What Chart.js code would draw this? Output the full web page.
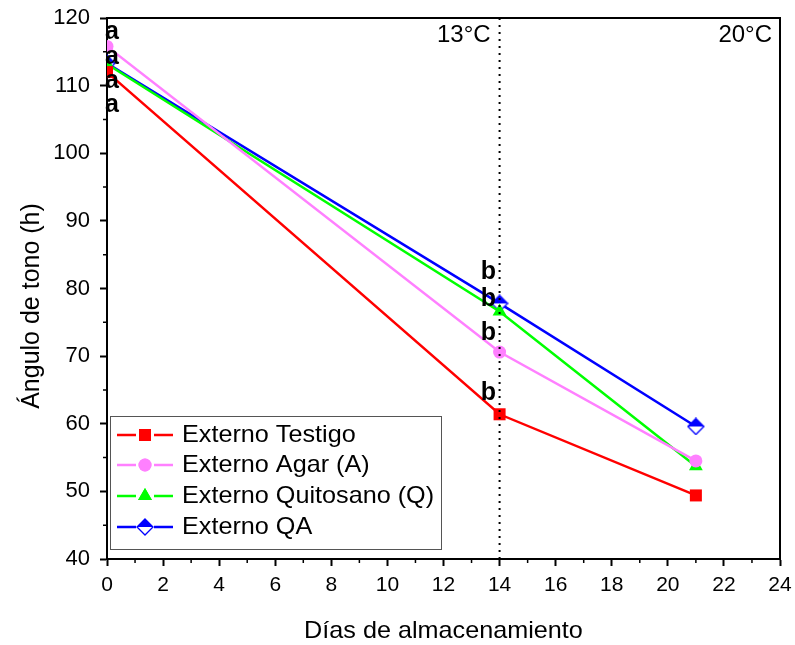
<!DOCTYPE html>
<html>
<head>
<meta charset="utf-8">
<script src="https://cdn.jsdelivr.net/npm/chart.js@4"></script>
<style>
  html, body { margin: 0; padding: 0; background: #fff; }
  #wrap { width: 795px; height: 645px; }
</style>
</head>
<body>
<div id="wrap"><canvas id="hueChart" width="795" height="645"></canvas></div>
<script>
// storage days
const days = [0, 14, 21];

// hue angle (h) per treatment
const testigo = [112.0, 61.4, 49.4];
const agar = [115.8, 70.6, 54.5];
const quitosano = [113.2, 76.6, 53.7];
const qa = [113.3, 77.8, 59.6];

const seriesNames = ["Externo Testigo", "Externo Agar (A)", "Externo Quitosano (Q)", "Externo QA"];

// significance letters (x, y in data units)
const letterText = ["a", "a", "a", "a", "b", "b", "b", "b"];
const letterX = [0.18, 0.18, 0.18, 0.18, 13.6, 13.6, 13.6, 13.6];
const letterY = [117.9, 114.2, 110.7, 107.1, 82.4, 78.4, 73.4, 64.5];

const xTicks = [0, 2, 4, 6, 8, 10, 12, 14, 16, 18, 20, 22, 24];
const yTicks = [40, 50, 60, 70, 80, 90, 100, 110, 120];

const FONT = "'Liberation Sans', Arial, sans-serif";
const STRETCH = 1.05; // legend / title text runs slightly wide in the original

function diamondImage() {
  const c = document.createElement("canvas");
  c.width = 18; c.height = 18;
  const g = c.getContext("2d");
  g.beginPath();
  g.moveTo(9, 1); g.lineTo(17, 9); g.lineTo(1, 9); g.closePath();
  g.fillStyle = "#0000ff"; g.fill();
  g.beginPath();
  g.moveTo(1, 9); g.lineTo(17, 9); g.lineTo(9, 17); g.closePath();
  g.fillStyle = "#ffffff"; g.fill();
  g.beginPath();
  g.moveTo(9, 1); g.lineTo(17, 9); g.lineTo(9, 17); g.lineTo(1, 9); g.closePath();
  g.strokeStyle = "#0000ff"; g.lineWidth = 1.3; g.stroke();
  return c;
}
const qaMarker = diamondImage();

function toPoints(values) {
  return days.map((d, i) => ({ x: d, y: values[i] }));
}

function wideText(ctx, text, x, y) {
  ctx.save();
  ctx.translate(x, y);
  ctx.scale(STRETCH, 1);
  ctx.fillText(text, 0, 0);
  ctx.restore();
}

const decorPlugin = {
  id: "decor",
  afterDraw(chart) {
    const ctx = chart.ctx;
    const a = chart.chartArea;
    const xs = chart.scales.x, ys = chart.scales.y;
    ctx.save();

    // frame (top + right)
    ctx.strokeStyle = "#000";
    ctx.lineWidth = 2;
    ctx.beginPath();
    ctx.moveTo(a.left, a.top); ctx.lineTo(a.right, a.top); ctx.lineTo(a.right, a.bottom);
    ctx.stroke();

    // minor ticks
    ctx.lineWidth = 1.5;
    ctx.beginPath();
    for (let v = 1; v < 24; v += 2) {
      const px = xs.getPixelForValue(v);
      ctx.moveTo(px, a.bottom); ctx.lineTo(px, a.bottom + 4);
    }
    for (let v = 45; v < 120; v += 10) {
      const py = ys.getPixelForValue(v);
      ctx.moveTo(a.left, py); ctx.lineTo(a.left - 4, py);
    }
    ctx.stroke();

    // dotted line at day 14
    const x14 = xs.getPixelForValue(14);
    ctx.setLineDash([2, 5]);
    ctx.lineWidth = 2;
    ctx.beginPath();
    ctx.moveTo(x14, a.top); ctx.lineTo(x14, a.bottom);
    ctx.stroke();
    ctx.setLineDash([]);

    // temperature labels
    ctx.fillStyle = "#000";
    ctx.font = "24px " + FONT;
    ctx.textAlign = "right";
    ctx.textBaseline = "alphabetic";
    ctx.fillText("13°C", x14 - 9, 42);
    ctx.fillText("20°C", a.right - 8, 42);

    // letters
    ctx.font = "bold 25px " + FONT;
    ctx.textAlign = "center";
    ctx.textBaseline = "middle";
    letterText.forEach((t, i) => {
      ctx.fillText(t, xs.getPixelForValue(letterX[i]), ys.getPixelForValue(letterY[i]));
    });

    // axis titles
    ctx.font = "24px " + FONT;
    ctx.textAlign = "center";
    ctx.textBaseline = "alphabetic";
    wideText(ctx, "Días de almacenamiento", (a.left + a.right) / 2, 638);
    ctx.save();
    ctx.translate(39, 306);
    ctx.rotate(-Math.PI / 2);
    ctx.font = "25px " + FONT;
    ctx.fillText("Ángulo de tono (h)", 0, 0);
    ctx.restore();

    // legend
    const lx = 110, ly = 416, lw = 331, lh = 133;
    ctx.fillStyle = "#fff";
    ctx.fillRect(lx, ly, lw, lh);
    ctx.strokeStyle = "#555";
    ctx.lineWidth = 1;
    ctx.strokeRect(lx + 0.5, ly + 0.5, lw, lh);
    const rows = [435, 465, 496, 527];
    chart.data.datasets.forEach((ds, i) => {
      const y = rows[i];
      ctx.strokeStyle = ds.borderColor;
      ctx.lineWidth = 2.5;
      ctx.beginPath();
      ctx.moveTo(117, y); ctx.lineTo(136, y);
      ctx.moveTo(154, y); ctx.lineTo(173, y);
      ctx.stroke();
      if (ds.pointStyle instanceof HTMLCanvasElement) {
        ctx.drawImage(ds.pointStyle, 145 - 9, y - 9);
      } else {
        ctx.fillStyle = ds.pointBackgroundColor;
        Chart.helpers.drawPoint(ctx, { pointStyle: ds.pointStyle, radius: ds.pointRadius, rotation: 0, borderWidth: 0 }, 145, y);
        ctx.fill();
      }
      ctx.fillStyle = "#000";
      ctx.font = "24px " + FONT;
      ctx.textAlign = "left";
      ctx.textBaseline = "alphabetic";
      wideText(ctx, ds.label, 182, y + 7);
    });

    ctx.restore();
  }
};

const ctx = document.getElementById("hueChart").getContext("2d");
const hueChart = new Chart(ctx, {
  type: "line",
  data: {
    datasets: [
      {
        label: seriesNames[0],
        data: toPoints(testigo),
        borderColor: "#ff0000",
        backgroundColor: "#ff0000",
        pointBackgroundColor: "#ff0000",
        pointStyle: "rect",
        pointRadius: 8.5,
        pointBorderWidth: 0,
        borderWidth: 2.5,
      },
      {
        label: seriesNames[1],
        data: toPoints(agar),
        borderColor: "#ff80ff",
        backgroundColor: "#ff80ff",
        pointBackgroundColor: "#ff80ff",
        pointStyle: "circle",
        pointRadius: 6.5,
        pointBorderWidth: 0,
        borderWidth: 2.5,
      },
      {
        label: seriesNames[2],
        data: toPoints(quitosano),
        borderColor: "#00ff00",
        backgroundColor: "#00ff00",
        pointBackgroundColor: "#00ff00",
        pointStyle: "triangle",
        pointRadius: 8,
        pointBorderWidth: 0,
        borderWidth: 2.5,
      },
      {
        label: seriesNames[3],
        data: toPoints(qa),
        borderColor: "#0000ff",
        backgroundColor: "#0000ff",
        pointStyle: qaMarker,
        pointRadius: 9,
        borderWidth: 2.5,
      },
    ],
  },
  options: {
    responsive: false,
    animation: false,
    events: [],
    layout: { padding: { top: 18, right: 15, left: 0, bottom: 0 } },
    plugins: { legend: { display: false }, tooltip: { enabled: false } },
    scales: {
      x: {
        type: "linear",
        min: 0,
        max: 24,
        afterBuildTicks: (s) => { s.ticks = xTicks.map((v) => ({ value: v })); },
        afterFit: (s) => { s.height = 86; s.paddingLeft = 0; s.paddingRight = 0; },
        grid: { drawOnChartArea: false, drawTicks: true, tickLength: 7, tickWidth: 2, tickColor: "#000" },
        border: { color: "#000", width: 2 },
        ticks: { color: "#000", font: { size: 21, family: FONT }, padding: 7, maxRotation: 0 },
      },
      y: {
        type: "linear",
        min: 40,
        max: 120,
        afterBuildTicks: (s) => { s.ticks = yTicks.map((v) => ({ value: v })); },
        afterFit: (s) => { s.width = 107; s.paddingTop = 0; s.paddingBottom = 0; },
        grid: { drawOnChartArea: false, drawTicks: true, tickLength: 7, tickWidth: 2, tickColor: "#000" },
        border: { color: "#000", width: 2 },
        ticks: { color: "#000", font: { size: 22, family: FONT }, padding: 10 },
      },
    },
  },
  plugins: [decorPlugin],
});
</script>
</body>
</html>
